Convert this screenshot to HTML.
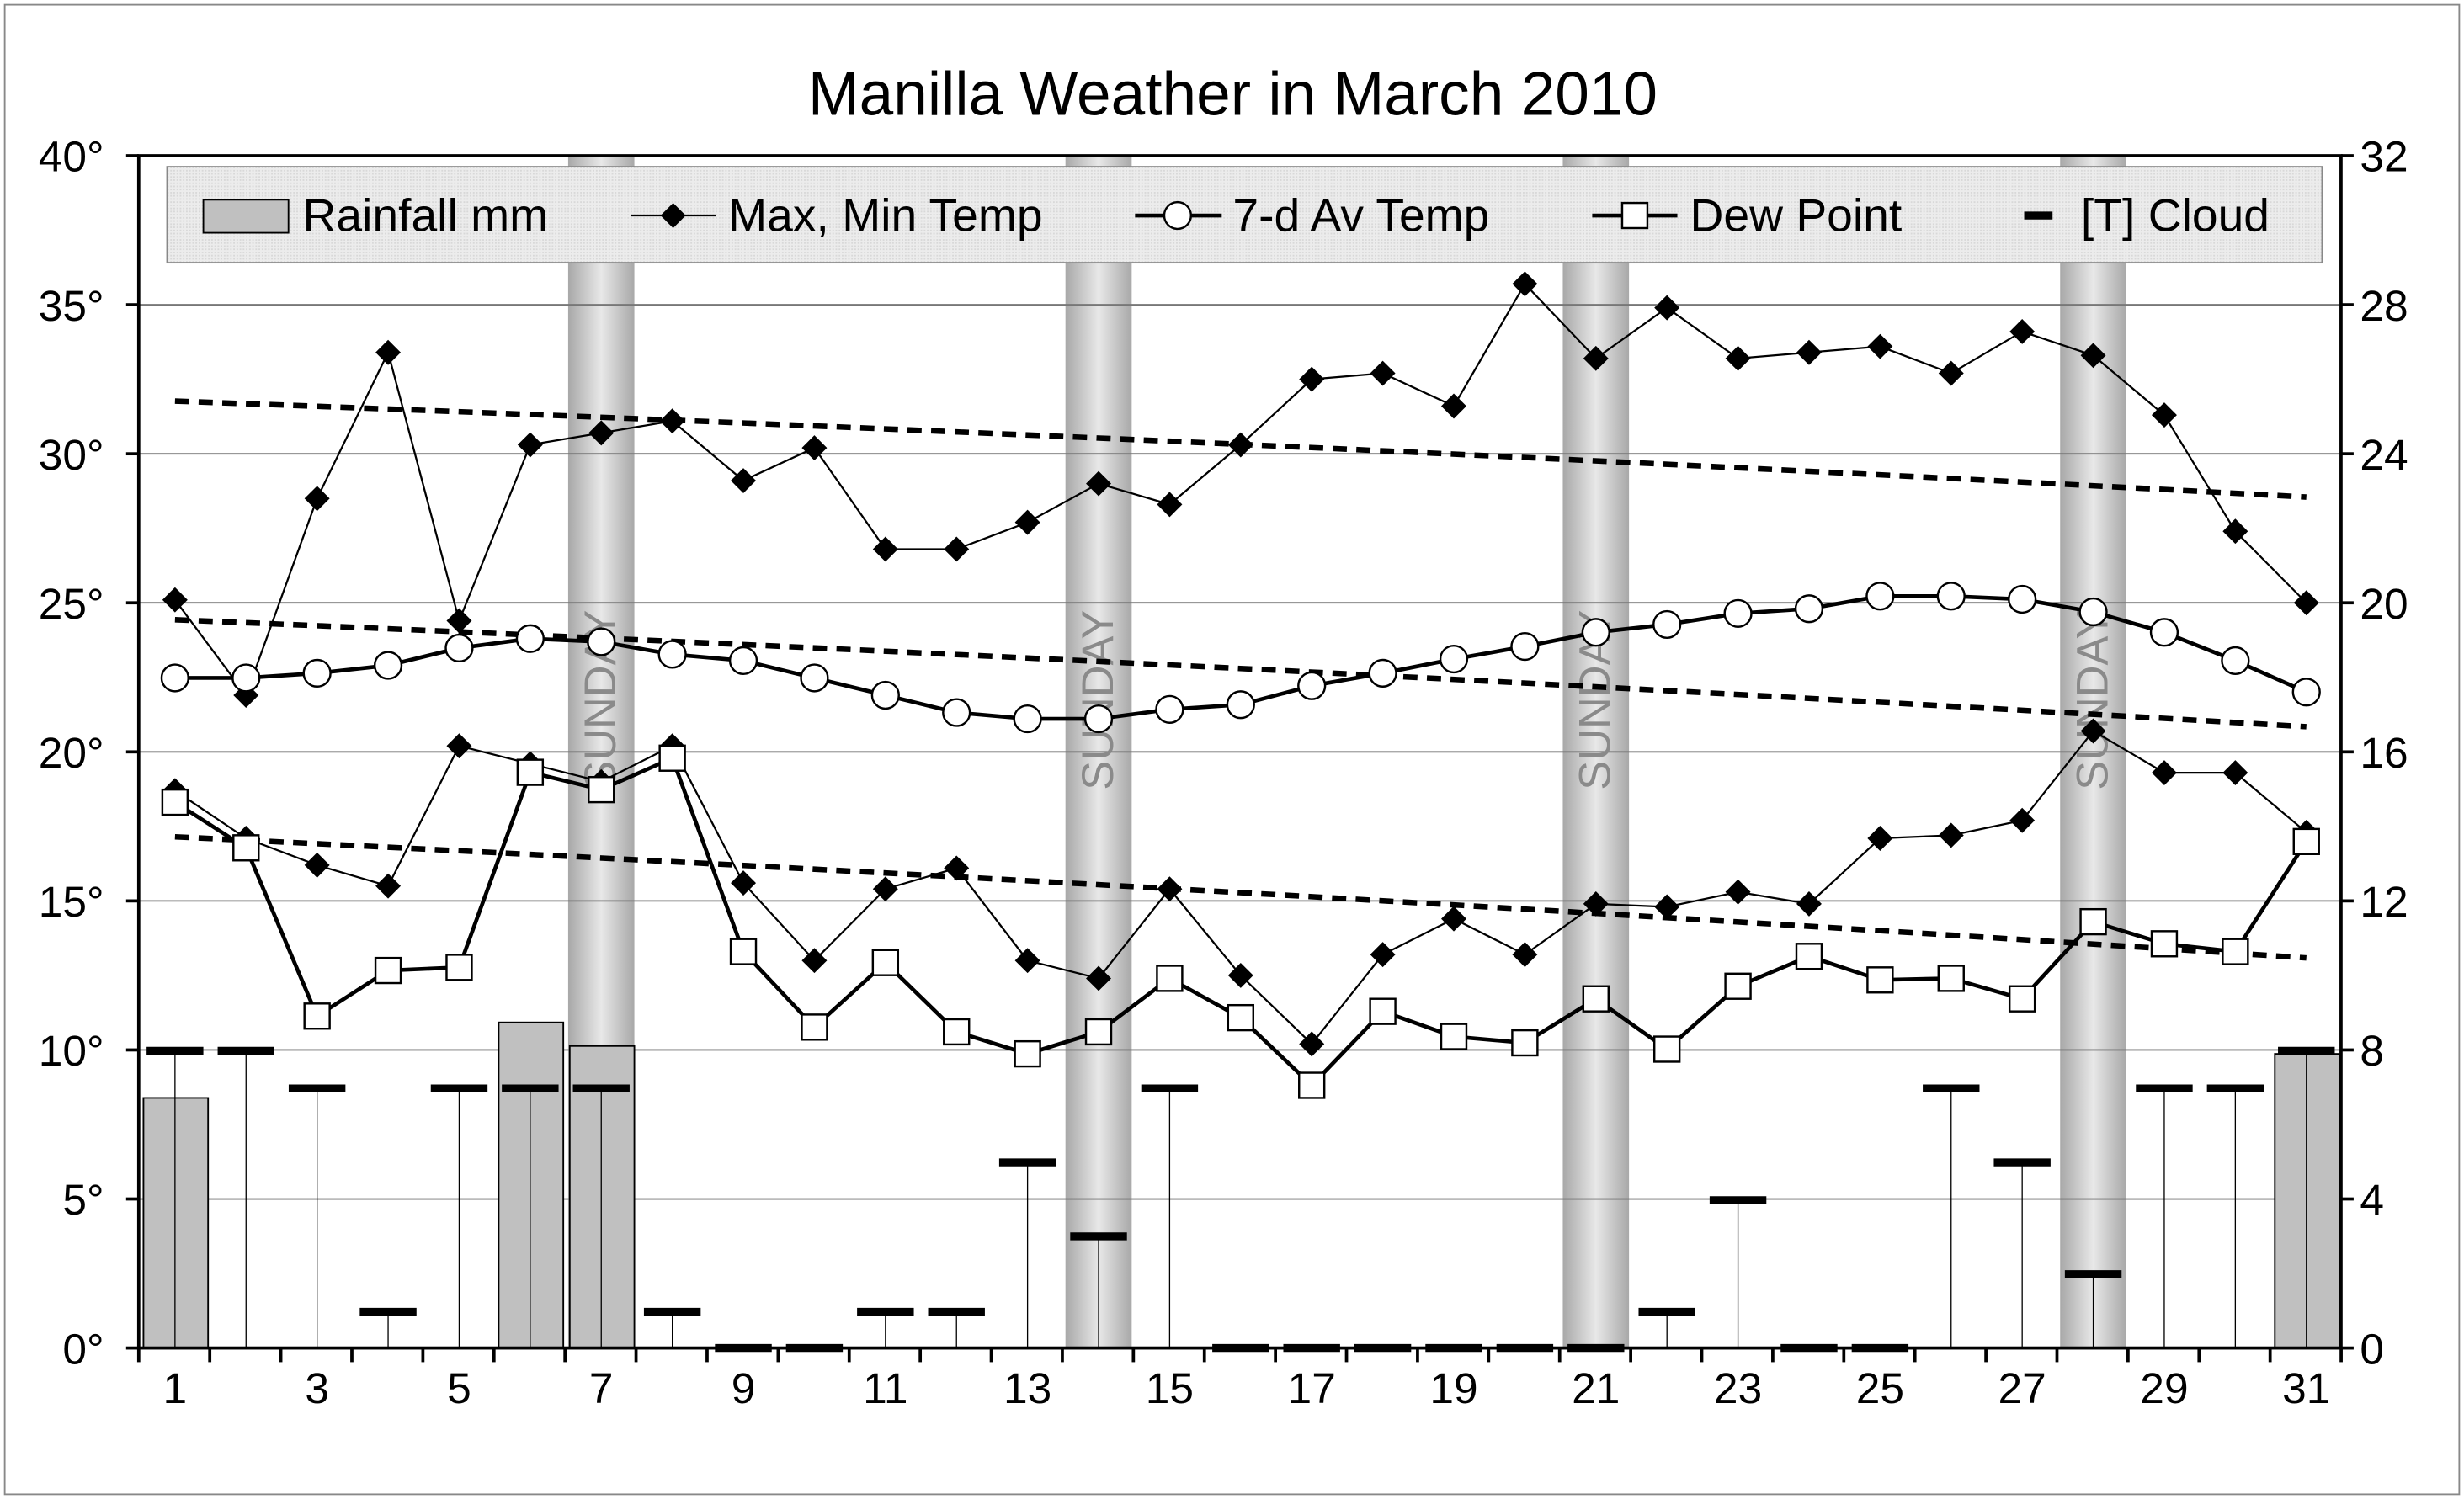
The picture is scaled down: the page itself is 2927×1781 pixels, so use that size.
<!DOCTYPE html>
<html><head><meta charset="utf-8"><style>
html,body{margin:0;padding:0;background:#fff}
svg{display:block}
text{font-family:"Liberation Sans",sans-serif;fill:#000}
</style></head><body>
<svg id="s" width="2927" height="1781" viewBox="0 0 1563 953" preserveAspectRatio="none" xmlns="http://www.w3.org/2000/svg">
<defs>
<linearGradient id="sg" x1="0" x2="1" y1="0" y2="0">
<stop offset="0" stop-color="#a8a8a8"/><stop offset="0.5" stop-color="#e8e8e8"/><stop offset="1" stop-color="#a8a8a8"/>
</linearGradient>
<pattern id="lg" width="2" height="2" patternUnits="userSpaceOnUse"><rect width="2" height="2" fill="#ececec"/><rect width="1" height="1" fill="#d8d8d8"/></pattern>
</defs>
<rect x="3" y="3" width="1557" height="947" fill="#fff" stroke="#888" stroke-width="1"/>
<text x="782" y="73" font-size="39" text-anchor="middle">Manilla Weather in March 2010</text>
<g id="g"></g>
</svg>
<script>
const g=document.getElementById('g');let h='';
const X=d=>111+(d-1)*45.067, Y=t=>857-t*18.95;
[7,14,21,28].forEach(d=>{h+=`<rect x="${X(d)-21}" y="99" width="42" height="758" fill="url(#sg)"/>`;});
for(let i=1;i<8;i++){h+=`<line x1="88" x2="1485" y1="${857-i*94.75}" y2="${857-i*94.75}" stroke="#777" stroke-width="1"/>`;}
[7,14,21,28].forEach(d=>{h+=`<text transform="translate(${X(d)+9},445) rotate(-90)" font-size="28" style="fill:#8a8a8a" text-anchor="middle">SUNDAY</text>`;});
[[1,698],[6,650],[7,665],[31,670]].forEach(([d,t])=>{h+=`<rect x="${X(d)-20}" y="${t}" width="41" height="${857-t}" fill="#c0c0c0" stroke="#000" stroke-width="1"/>`;});
const cl=[668,668,692,834,692,692,692,834,857,857,834,834,739,786,692,857,857,857,857,857,857,834,763,857,857,692,739,810,692,692,668];
cl.forEach((y,i)=>{const x=X(i+1);h+=`<line x1="${x}" x2="${x}" y1="${y}" y2="857" stroke="#000" stroke-width="0.7"/><line x1="${x-18}" x2="${x+18}" y1="${y}" y2="${y}" stroke="#000" stroke-width="5"/>`;});
[[255,316],[394,462],[532,609]].forEach(([a,b])=>{h+=`<path d="M111,${a} Q787,${(a+b)/2-6} 1463,${b}" fill="none" stroke="#000" stroke-width="3.5" stroke-dasharray="9,6"/>`;});
const mx=[25.1,21.9,28.5,33.4,24.4,30.3,30.7,31.1,29.1,30.2,26.8,26.8,27.7,29.0,28.3,30.3,32.5,32.7,31.6,35.7,33.2,34.9,33.2,33.4,33.6,32.7,34.1,33.3,31.3,27.4,25.0];
const mn=[18.7,17.1,16.2,15.5,20.2,19.6,19.0,20.2,15.6,13.0,15.4,16.1,13.0,12.4,15.4,12.5,10.2,13.2,14.4,13.2,14.9,14.8,15.3,14.9,17.1,17.2,17.7,20.7,19.3,19.3,17.3];
const av=[431,431,428,423,412,406,408,416,420,431,442,453,457,457,451,448,436,428,419,411,402,397,390,387,379,379,381,389,402,420,440];
const dw=[510,539,646,617,615,491,502,482,605,653,612,656,670,656,622,647,690,643,659,663,635,667,627,608,623,622,635,586,600,605,535];
const line=(pts,w)=>`<polyline points="${pts.map(p=>p.join(',')).join(' ')}" fill="none" stroke="#000" stroke-width="${w}"/>`;
const dia=(x,y)=>`<path d="M${x},${y-8} L${x+8},${y} L${x},${y+8} L${x-8},${y}Z" fill="#000"/>`;
[mx,mn].forEach(a=>{const p=a.map((v,i)=>[X(i+1),Y(v)]);h+=line(p,1.2);p.forEach(q=>h+=dia(q[0],q[1]));});
let p=av.map((v,i)=>[X(i+1),v]);h+=line(p,2.5);p.forEach(q=>h+=`<circle cx="${q[0]}" cy="${q[1]}" r="8.5" fill="#fff" stroke="#000" stroke-width="1.3"/>`);
p=dw.map((v,i)=>[X(i+1),v]);h+=line(p,2.5);p.forEach(q=>h+=`<rect x="${q[0]-8}" y="${q[1]-8}" width="16" height="16" fill="#fff" stroke="#000" stroke-width="1.3"/>`);
h+=`<rect x="88" y="99" width="1397" height="758" fill="none" stroke="#000" stroke-width="2"/>`;
for(let i=0;i<=8;i++){const y=857-i*94.75;h+=`<line x1="88" x2="80" y1="${y}" y2="${y}" stroke="#000" stroke-width="2"/><line x1="1485" x2="1493" y1="${y}" y2="${y}" stroke="#000" stroke-width="2"/>`;
h+=`<text x="66" y="${y+10}" font-size="27.5" text-anchor="end">${i*5}°</text><text x="1497" y="${y+10}" font-size="27.5">${i*4}</text>`;}
for(let d=0;d<=31;d++){const x=88+d*45.067;h+=`<line x1="${x}" x2="${x}" y1="857" y2="866" stroke="#000" stroke-width="2"/>`;}
for(let d=1;d<=31;d+=2){h+=`<text x="${X(d)}" y="892" font-size="27.5" text-anchor="middle">${d}</text>`;}
h+=`<rect x="106" y="106" width="1367" height="61" fill="url(#lg)" stroke="#888" stroke-width="1"/>`;
h+=`<rect x="129" y="127" width="54" height="21" fill="#c0c0c0" stroke="#000"/><text x="192" y="147" font-size="29.5">Rainfall mm</text>`;
h+=`<line x1="400" x2="454" y1="137" y2="137" stroke="#000" stroke-width="1.2"/>`+dia(427,137)+`<text x="462" y="147" font-size="29.5">Max, Min Temp</text>`;
h+=`<line x1="720" x2="775" y1="137" y2="137" stroke="#000" stroke-width="2.5"/><circle cx="747" cy="137" r="8.5" fill="#fff" stroke="#000" stroke-width="1.3"/><text x="782" y="147" font-size="29.5">7-d Av Temp</text>`;
h+=`<line x1="1010" x2="1064" y1="137" y2="137" stroke="#000" stroke-width="2.5"/><rect x="1029" y="129" width="16" height="16" fill="#fff" stroke="#000" stroke-width="1.3"/><text x="1072" y="147" font-size="29.5">Dew Point</text>`;
h+=`<line x1="1284" x2="1302" y1="137" y2="137" stroke="#000" stroke-width="5"/><text x="1320" y="147" font-size="29.5">[T] Cloud</text>`;
g.innerHTML=h;
</script>
</body></html>
